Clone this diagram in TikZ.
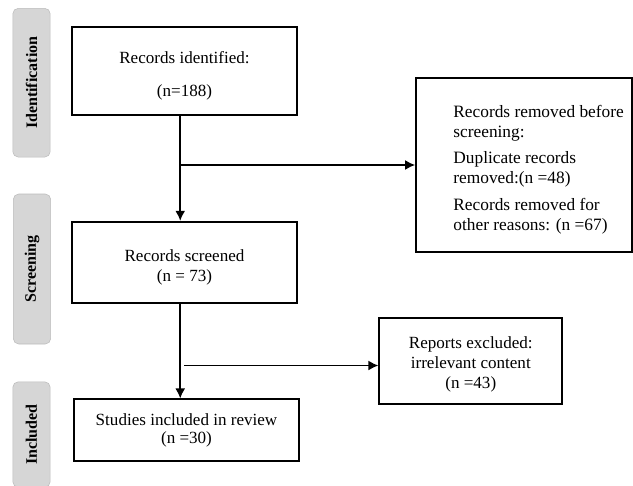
\documentclass[tikz,border=0pt]{standalone}
\usepackage{fontspec}
\setmainfont{Liberation Serif}
\usetikzlibrary{arrows.meta,positioning,calc}
\definecolor{phasefill}{RGB}{214,214,214}
\definecolor{phaseedge}{RGB}{188,188,188}

\begin{document}
\begin{tikzpicture}[x=0.75pt, y=-0.75pt,
  every node/.style={font=\fontsize{12.8}{15}\selectfont},
  phase/.style={rectangle, rounded corners=4pt, rotate=90, minimum height=28pt,
    fill=phasefill, draw=phaseedge, font=\fontsize{12}{14}\selectfont\bfseries},
  recbox/.style={rectangle, draw, line width=1.3pt, align=center, inner sep=2pt},
  flow/.style={-{Latex[length=7.5pt,width=7.5pt]}, line width=1.3pt}
]
  \useasboundingbox (0,0) rectangle (633,486);

  \node[phase, minimum width=111.5pt] (ident) at (31.5,82.7) {Identification};
  \node[phase, minimum width=112.5pt] (screen) at (32,269) {Screening};
  \node[phase, minimum width=79pt] (incl) at (31.5,434.5) {Included};

  \node[recbox, minimum width=168.75pt, minimum height=66.2pt] (idrec) at (184.5,70.8)
      {\rule{0pt}{17pt}Records identified:\\[10pt](n=188)};
  \node[recbox, minimum width=168.75pt, minimum height=60.75pt] (scrrec) at (184.5,262.2)
      {\rule{0pt}{17pt}Records screened\\(n = 73)};
  \node[recbox, minimum width=168.75pt, minimum height=46pt] (inclrec) at (186.5,430)
      {Studies included in review\\[-1.5pt](n =30)};

  \node[recbox, minimum width=162pt, minimum height=131pt] (rmv) at (524,165) {};
  \node[anchor=west, align=left, inner sep=0pt, font=\fontsize{13}{15}\selectfont] (rmvtext)
      at ([xshift=28.5pt, yshift=-3.5pt]rmv.west)
      {Records removed before\\screening:\\[5pt]Duplicate records\\removed:(n =48)\\[5pt]Records removed for\\other reasons: (n =67)};

  \node[recbox, minimum width=137.25pt, minimum height=64.3pt] (exclrec) at (470.8,361.2)
      {\rule{0pt}{13pt}Reports excluded:\\irrelevant content\\(n =43)};

  \draw[flow] ([xshift=-3.2pt]idrec.south) -- ([xshift=-3.2pt]scrrec.north);
  \draw[flow] ([xshift=-3.2pt]idrec.south |- rmv.west) -- (rmv.west);

  \draw[flow] ([xshift=-3.2pt]scrrec.south) -- ([xshift=-3.2pt]scrrec.south |- inclrec.north);
  \coordinate (split) at (184.3,365.5);
  \draw[flow] (split) -- (split -| exclrec.west);
\end{tikzpicture}
\end{document}
